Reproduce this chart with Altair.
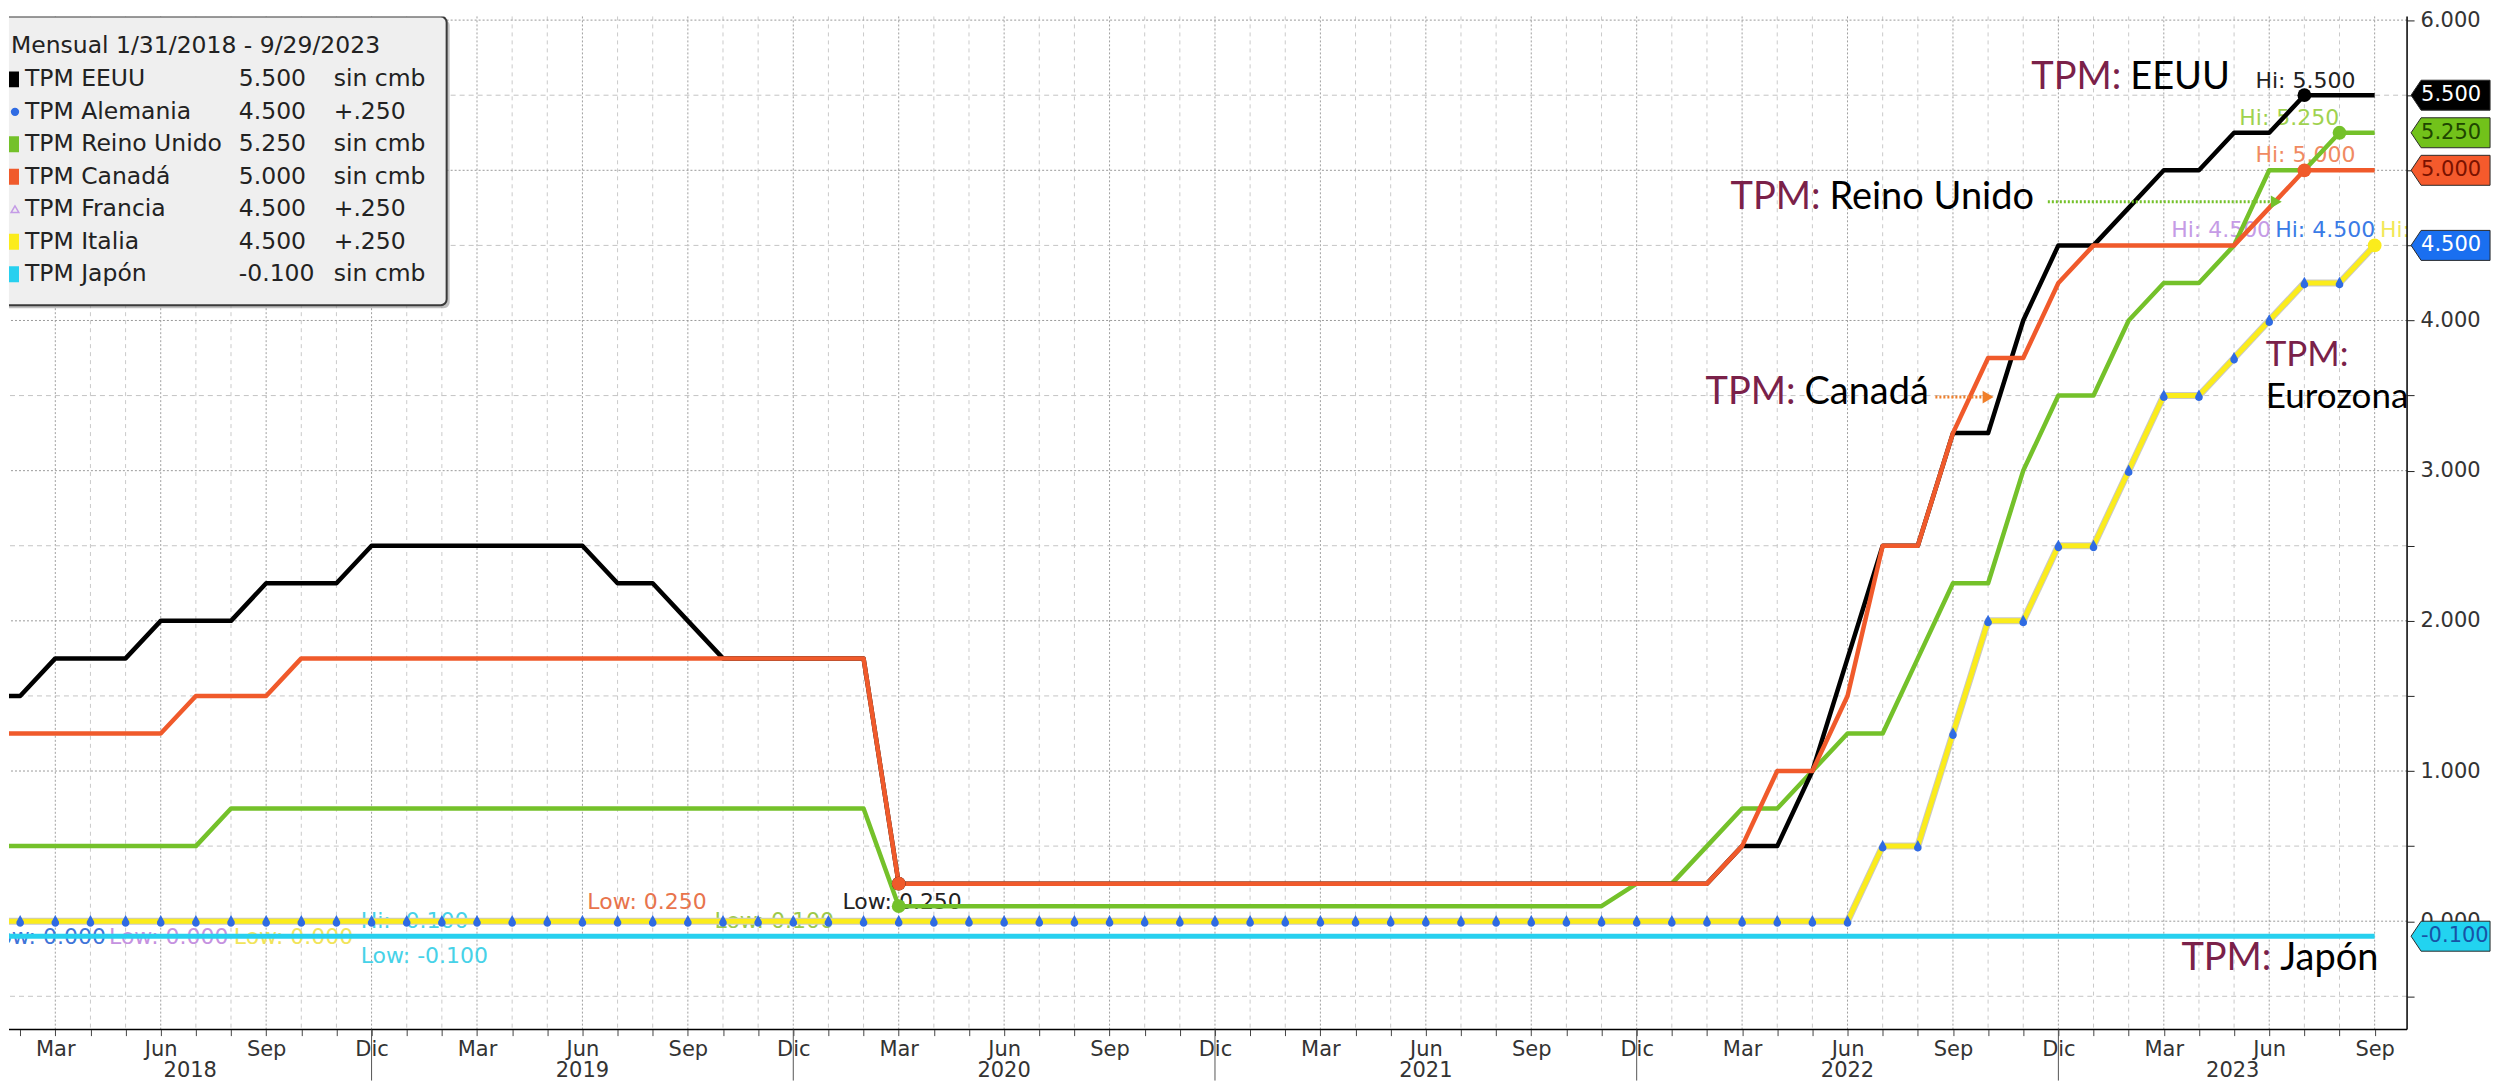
import altair as alt
import pandas as pd

# ------------------------------------------------------------------ data
MONTHS = ['Ene', 'Feb', 'Mar', 'Abr', 'May', 'Jun', 'Jul', 'Ago', 'Sep', 'Oct', 'Nov', 'Dic']
YEARS = ['2018', '2019', '2020', '2021', '2022', '2023']

# month-end values, Jan 2018 .. Sep 2023 (69 months)
eeuu = [
    1.50, 1.50, 1.75, 1.75, 1.75, 2.00, 2.00, 2.00, 2.25, 2.25, 2.25, 2.50,
    2.50, 2.50, 2.50, 2.50, 2.50, 2.50, 2.25, 2.25, 2.00, 1.75, 1.75, 1.75,
    1.75, 1.75, 0.25, 0.25, 0.25, 0.25, 0.25, 0.25, 0.25, 0.25, 0.25, 0.25,
    0.25, 0.25, 0.25, 0.25, 0.25, 0.25, 0.25, 0.25, 0.25, 0.25, 0.25, 0.25,
    0.25, 0.25, 0.50, 0.50, 1.00, 1.75, 2.50, 2.50, 3.25, 3.25, 4.00, 4.50,
    4.50, 4.75, 5.00, 5.00, 5.25, 5.25, 5.50, 5.50, 5.50,
]
alemania = [
    0.00, 0.00, 0.00, 0.00, 0.00, 0.00, 0.00, 0.00, 0.00, 0.00, 0.00, 0.00,
    0.00, 0.00, 0.00, 0.00, 0.00, 0.00, 0.00, 0.00, 0.00, 0.00, 0.00, 0.00,
    0.00, 0.00, 0.00, 0.00, 0.00, 0.00, 0.00, 0.00, 0.00, 0.00, 0.00, 0.00,
    0.00, 0.00, 0.00, 0.00, 0.00, 0.00, 0.00, 0.00, 0.00, 0.00, 0.00, 0.00,
    0.00, 0.00, 0.00, 0.00, 0.00, 0.00, 0.50, 0.50, 1.25, 2.00, 2.00, 2.50,
    2.50, 3.00, 3.50, 3.50, 3.75, 4.00, 4.25, 4.25, 4.50,
]
reino_unido = [
    0.50, 0.50, 0.50, 0.50, 0.50, 0.50, 0.50, 0.75, 0.75, 0.75, 0.75, 0.75,
    0.75, 0.75, 0.75, 0.75, 0.75, 0.75, 0.75, 0.75, 0.75, 0.75, 0.75, 0.75,
    0.75, 0.75, 0.10, 0.10, 0.10, 0.10, 0.10, 0.10, 0.10, 0.10, 0.10, 0.10,
    0.10, 0.10, 0.10, 0.10, 0.10, 0.10, 0.10, 0.10, 0.10, 0.10, 0.10, 0.25,
    0.25, 0.50, 0.75, 0.75, 1.00, 1.25, 1.25, 1.75, 2.25, 2.25, 3.00, 3.50,
    3.50, 4.00, 4.25, 4.25, 4.50, 5.00, 5.00, 5.25, 5.25,
]
canada = [
    1.25, 1.25, 1.25, 1.25, 1.25, 1.25, 1.50, 1.50, 1.50, 1.75, 1.75, 1.75,
    1.75, 1.75, 1.75, 1.75, 1.75, 1.75, 1.75, 1.75, 1.75, 1.75, 1.75, 1.75,
    1.75, 1.75, 0.25, 0.25, 0.25, 0.25, 0.25, 0.25, 0.25, 0.25, 0.25, 0.25,
    0.25, 0.25, 0.25, 0.25, 0.25, 0.25, 0.25, 0.25, 0.25, 0.25, 0.25, 0.25,
    0.25, 0.25, 0.50, 1.00, 1.00, 1.50, 2.50, 2.50, 3.25, 3.75, 3.75, 4.25,
    4.50, 4.50, 4.50, 4.50, 4.50, 4.75, 5.00, 5.00, 5.00,
]
francia = list(alemania)   # same ECB rate, drawn under Alemania
italia = list(alemania)    # same ECB rate
japon = [
    -0.10, -0.10, -0.10, -0.10, -0.10, -0.10, -0.10, -0.10, -0.10, -0.10, -0.10, -0.10,
    -0.10, -0.10, -0.10, -0.10, -0.10, -0.10, -0.10, -0.10, -0.10, -0.10, -0.10, -0.10,
    -0.10, -0.10, -0.10, -0.10, -0.10, -0.10, -0.10, -0.10, -0.10, -0.10, -0.10, -0.10,
    -0.10, -0.10, -0.10, -0.10, -0.10, -0.10, -0.10, -0.10, -0.10, -0.10, -0.10, -0.10,
    -0.10, -0.10, -0.10, -0.10, -0.10, -0.10, -0.10, -0.10, -0.10, -0.10, -0.10, -0.10,
    -0.10, -0.10, -0.10, -0.10, -0.10, -0.10, -0.10, -0.10, -0.10,
]

SERIES = ['TPM EEUU', 'TPM Alemania', 'TPM Reino Unido', 'TPM Canadá',
          'TPM Francia', 'TPM Italia', 'TPM Japón']
VALUES = [eeuu, alemania, reino_unido, canada, francia, italia, japon]
LEG_TITLE = 'Mensual 1/31/2018 - 9/29/2023'
LEG_LAST = ['5.500', '4.500', '5.250', '5.000', '4.500', '4.500', '-0.100']
LEG_CHG = ['sin cmb', '+.250', 'sin cmb', 'sin cmb', '+.250', '+.250', 'sin cmb']

# short names used in the on-chart callouts
CALLOUTS = ['EEUU', 'Reino Unido', 'Canadá', 'Japón']
EURO_CALLOUT = ['TPM:', 'Eurozona']

# ------------------------------------------------------------------ styles
COL = {
    'TPM EEUU': '#000000',
    'TPM Alemania': '#2f6be3',
    'TPM Reino Unido': '#74c12a',
    'TPM Canadá': '#f05a2b',
    'TPM Francia': '#c49be6',
    'TPM Italia': '#fbec1c',
    'TPM Japón': '#27d0ef',
}
MAROON = '#7a2149'
FONT = 'DejaVu Sans'
BIG = 'Lato, Open Sans, sans-serif'

W, H = 2400, 1014
PXM = 35.17                      # px per month
X0 = -16.0                       # x of month 0 relative to page
XDOM = [(8 - X0) / PXM, (2408 - X0) / PXM]
ZERO, PXU = 913.5, 150.3
YDOM = [(ZERO - 1022) / PXU, (ZERO - 8) / PXU]

xs = alt.Scale(domain=XDOM, nice=False, zero=False)
ys = alt.Scale(domain=YDOM, nice=False, zero=False)

Y_TICKS = [k / 2 for k in range(-1, 13)]
month_expr = '[' + ','.join("'%s'" % m for m in MONTHS) + ']'
x_axis = alt.Axis(
    orient='bottom', values=list(range(1, len(eeuu))),
    labelExpr="datum.value %% 3 == 2 ? %s[datum.value %% 12] : ''" % month_expr,
    grid=False, domain=False, tickColor='#444', tickSize=6,
    labelFont=FONT, labelFontSize=21, labelColor='#333', labelPadding=3,
    labelOverlap=False, labelFlush=False, title=None,
)
y_axis = alt.Axis(
    orient='right', values=Y_TICKS,
    labelExpr="datum.value % 1 == 0 ? format(datum.value, '.3f') : ''",
    grid=False, domain=False, tickColor='#222', tickSize=7,
    labelFont=FONT, labelFontSize=21, labelColor='#333', labelPadding=6,
    labelFlush=True, title=None,
)


def XF(f):
    return alt.X('%s:Q' % f, scale=xs, axis=x_axis)


def YF(f):
    return alt.Y('%s:Q' % f, scale=ys, axis=y_axis)


X = XF('i')
Y = YF('v')

# ------------------------------------------------------------------ frames
df = pd.DataFrame({'i': list(range(len(eeuu)))})
for s, v in zip(SERIES, VALUES):
    df[s] = v
long = df.melt('i', var_name='serie', value_name='v')
one = pd.DataFrame({'a': [0]})

layers = []

# ---------------- grid (monthly dashed, quarterly dotted; half-units dashed, units dotted)
gx = pd.DataFrame({'i': list(range(2, len(eeuu)))})
gx['q'] = gx.i % 3 == 2
gy = pd.DataFrame({'v': Y_TICKS})
gy['u'] = gy.v % 1 == 0
layers.append(alt.Chart(gx[~gx.q]).mark_rule(color='#cacaca', strokeDash=[4, 4], strokeWidth=1)
              .encode(x=X))
layers.append(alt.Chart(gx[gx.q]).mark_rule(color='#a0a0a0', strokeDash=[2, 2], strokeWidth=1)
              .encode(x=X))
layers.append(alt.Chart(gy[~gy.u]).mark_rule(color='#c4c4c4', strokeDash=[5, 4], strokeWidth=1)
              .encode(y=Y))
layers.append(alt.Chart(gy[gy.u]).mark_rule(color='#9a9a9a', strokeDash=[2, 2], strokeWidth=1)
              .encode(y=Y))

# ---------------- hi / low labels (beneath the lines)
lab = pd.DataFrame([
    ('Low: 0.000', 3.44, -0.106, '#3f74d8', 'right'),
    ('Low: 0.000', 3.53, -0.106, '#c592e0', 'left'),
    ('Low: 0.000', 7.08, -0.106, '#f1e45a', 'left'),
    ('Hi: -0.100', 10.69, 0.0, '#47d2e8', 'left'),
    ('Low: -0.100', 10.69, -0.233, '#47d2e8', 'left'),
    ('Low: 0.250', 17.14, 0.126, '#e8744c', 'left'),
    ('Low: 0.100', 20.76, 0.0, '#9cc94a', 'left'),
    ('Low: 0.250', 24.40, 0.126, '#222222', 'left'),
    ('Hi: 5.500', 66.03, 5.595, '#222222', 'center'),
    ('Hi: 5.250', 65.57, 5.35, '#9fd24f', 'center'),
    ('Hi: 5.000', 66.03, 5.10, '#f08a62', 'center'),
    ('Hi: 4.500', 62.21, 4.60, '#c59be6', 'left'),
    ('Hi: 4.500', 65.17, 4.60, '#3a7be6', 'left'),
    ('Hi: 4.500', 68.15, 4.60, '#f2e85a', 'left'),
], columns=['t', 'i', 'v', 'c', 'a'])
for a in ['left', 'right', 'center']:
    layers.append(
        alt.Chart(lab[lab.a == a]).mark_text(align=a, baseline='middle', font=FONT,
                                             fontSize=22, clip=True)
        .encode(x=X, y=Y, text='t:N', color=alt.Color('c:N', scale=None))
    )


# ---------------- lines
def line(s, width, color=None):
    return (alt.Chart(long).transform_filter(alt.datum.serie == s)
            .mark_line(color=color or COL[s], strokeWidth=width, clip=True,
                       strokeJoin='round', strokeCap='butt')
            .encode(x=X, y=Y))


layers.append(line('TPM Japón', 5))
layers.append(line('TPM Francia', 5))
layers.append(line('TPM Alemania', 5))
layers.append(line('TPM Italia', 7, '#c9c9c9'))
layers.append(line('TPM Italia', 5))
layers.append(line('TPM Reino Unido', 4.5))
layers.append(line('TPM EEUU', 4.5))
layers.append(line('TPM Canadá', 4.5))

# Alemania markers (teardrop = dot with Francia triangle under it)
TEAR = 'M0,-1 L0.58,0.05 A0.62,0.62 0 1,1 -0.58,0.05 Z'
layers.append(
    alt.Chart(long).transform_filter(alt.datum.serie == 'TPM Alemania')
    .mark_point(shape=TEAR, filled=True, size=150, opacity=1, color=COL['TPM Alemania'], clip=True)
    .encode(x=X, y=Y)
)

# hi / low dots derived from the series
pts = []
for s in ['TPM EEUU', 'TPM Canadá', 'TPM Reino Unido']:
    vals = df[s]
    k = int(vals.idxmin())
    pts.append((s, k, vals[k]))
for s in ['TPM EEUU', 'TPM Canadá', 'TPM Reino Unido', 'TPM Italia']:
    vals = df[s]
    k = int(vals.idxmax())
    pts.append((s, k, vals[k]))
pts = pd.DataFrame(pts, columns=['serie', 'i', 'v'])
pts['c'] = pts.serie.map(COL)
layers.append(
    alt.Chart(pts).mark_point(shape='circle', filled=True, size=190, opacity=1, clip=True)
    .encode(x=X, y=Y, color=alt.Color('c:N', scale=None))
)

# ---------------- axis lines (bottom and right)
layers.append(alt.Chart(one).mark_rule(color='#000', strokeWidth=1.5)
              .encode(x=alt.value(0), x2=alt.value(W), y=alt.value(H)))
layers.append(alt.Chart(one).mark_rule(color='#000', strokeWidth=1.5)
              .encode(x=alt.value(W), y=alt.value(0), y2=alt.value(H)))

# ---------------- callouts "TPM: xxx"
call = pd.DataFrame({
    'name': CALLOUTS,
    'i': [58.23, 49.67, 48.96, 62.50],
    'v': [5.615, 4.817, 3.52, -0.253],
})
layers.append(
    alt.Chart(call).mark_text(align='left', baseline='middle', font=BIG, fontSize=38, color=MAROON)
    .encode(x=X, y=Y, text=alt.value('TPM:'))
)
layers.append(
    alt.Chart(call).mark_text(align='left', baseline='middle', font=BIG, fontSize=38, color='#000', dx=99)
    .encode(x=X, y=Y, text='name:N')
)
euro = pd.DataFrame({'t': EURO_CALLOUT, 'i': [64.9, 64.9], 'v': [3.77, 3.49],
                     'c': [MAROON, '#000000']})
layers.append(
    alt.Chart(euro).mark_text(align='left', baseline='middle', font=BIG, fontSize=35)
    .encode(x=X, y=Y, text='t:N', color=alt.Color('c:N', scale=None))
)

# dotted arrows
arr = pd.DataFrame({'i': [58.7, 55.5], 'i2': [65.2, 57.0], 'v': [4.79, 3.49],
                    'c': [COL['TPM Reino Unido'], '#f07f2a']})
layers.append(
    alt.Chart(arr).mark_rule(strokeDash=[2, 2], strokeWidth=3)
    .encode(x=X, x2='i2:Q', y=Y, color=alt.Color('c:N', scale=None))
)
layers.append(
    alt.Chart(arr).mark_point(shape='triangle-right', filled=True, size=160, opacity=1)
    .encode(x=XF('i2'), y=Y, color=alt.Color('c:N', scale=None))
)

# year separators and labels below the axis
yr = pd.DataFrame({'year': YEARS})
yr['start'] = [12 * k - 1 for k in range(len(YEARS))]
yr['end'] = [12 * k + 11 for k in range(len(YEARS))]
yr['mid'] = [(max(a, XDOM[0]) + min(b, XDOM[1])) / 2 for a, b in zip(yr.start, yr.end)]
sep = yr[(yr.end > XDOM[0]) & (yr.end < XDOM[1])]
layers.append(
    alt.Chart(sep).mark_rule(color='#555', strokeWidth=1)
    .encode(x=XF('end'), y=alt.value(H), y2=alt.value(H + 51))
)
layers.append(
    alt.Chart(yr).mark_text(align='center', baseline='bottom', font=FONT, fontSize=21, color='#333')
    .encode(x=XF('mid'), y=alt.value(H + 51), text='year:N')
)

# ---------------- last-value tags on the right axis
TAG = 'M-1,0 L-0.33,-1 L4.27,-1 L4.27,1 L-0.33,1 Z'
tags = pd.DataFrame({
    'v': [df['TPM EEUU'].iloc[-1], df['TPM Reino Unido'].iloc[-1], df['TPM Canadá'].iloc[-1],
          df['TPM Alemania'].iloc[-1], df['TPM Japón'].iloc[-1]],
    'fill': ['#000000', '#72c21a', '#f55a2c', '#1a6ff0', '#22d3f0'],
    'tc': ['#ffffff', '#1e4600', '#7a1200', '#ffffff', '#1753a6'],
})
tags['lab'] = tags.v.map(lambda x: '%.3f' % x)
layers.append(
    alt.Chart(tags).mark_point(shape=TAG, filled=True, size=900, opacity=1,
                               stroke='#2a2a2a', strokeWidth=1)
    .encode(x=alt.value(2419), y=Y, fill=alt.Fill('fill:N', scale=None))
)
layers.append(
    alt.Chart(tags).mark_text(align='left', baseline='middle', font=FONT, fontSize=21)
    .encode(x=alt.value(2414), y=Y, text='lab:N', color=alt.Color('tc:N', scale=None))
)

# ---------------- legend box (top left), pixel layout
layers.append(
    alt.Chart(one).mark_rect(fill='#8c8c8c', opacity=0.55, cornerRadius=6, clip=True)
    .encode(x=alt.value(-10), x2=alt.value(441), y=alt.value(3), y2=alt.value(292))
)
layers.append(
    alt.Chart(one).mark_rect(fill='#efefef', stroke='#3a3a3a', strokeWidth=2, cornerRadius=6, clip=True)
    .encode(x=alt.value(-10), x2=alt.value(438), y=alt.value(0), y2=alt.value(289))
)
layers.append(
    alt.Chart(one).mark_text(align='left', baseline='middle', font=FONT, fontSize=23.5, color='#222')
    .encode(x=alt.value(2), y=alt.value(30), text=alt.value(LEG_TITLE))
)
ROW0, ROWH = 63, 32.5
for col_vals, px in [(SERIES, 16), (LEG_LAST, 230), (LEG_CHG, 325)]:
    layers.append(
        alt.Chart(one).mark_text(align='left', baseline='middle', font=FONT, fontSize=23.5,
                                 color='#222', lineHeight=ROWH)
        .encode(x=alt.value(px), y=alt.value(ROW0), text=alt.value(list(col_vals)))
    )
LEG_SHAPES = ['square', 'circle', 'square', 'square', 'triangle-up', 'square', 'square']
for k, (s, sh) in enumerate(zip(SERIES, LEG_SHAPES)):
    if sh == 'square':
        mk = alt.Chart(one).mark_point(shape='square', filled=True, size=256, opacity=1,
                                       color=COL[s], clip=True)
        mx = 2
    elif sh == 'circle':
        mk = alt.Chart(one).mark_point(shape='circle', filled=True, size=70, opacity=1,
                                       color=COL[s], clip=True)
        mx = 6
    else:
        mk = alt.Chart(one).mark_point(shape='triangle-up', filled=False, size=60, opacity=1,
                                       strokeWidth=1.5, color=COL[s], clip=True)
        mx = 6
    layers.append(mk.encode(x=alt.value(mx), y=alt.value(ROW0 + ROWH * k)))

chart = (
    alt.layer(*layers)
    .resolve_axis(x='shared', y='shared')
    .properties(width=W, height=H, padding=0, background='white')
    .configure_view(stroke='transparent', strokeWidth=0)
)
chart.save('out.html', embed_options={'renderer': 'svg', 'actions': False})
